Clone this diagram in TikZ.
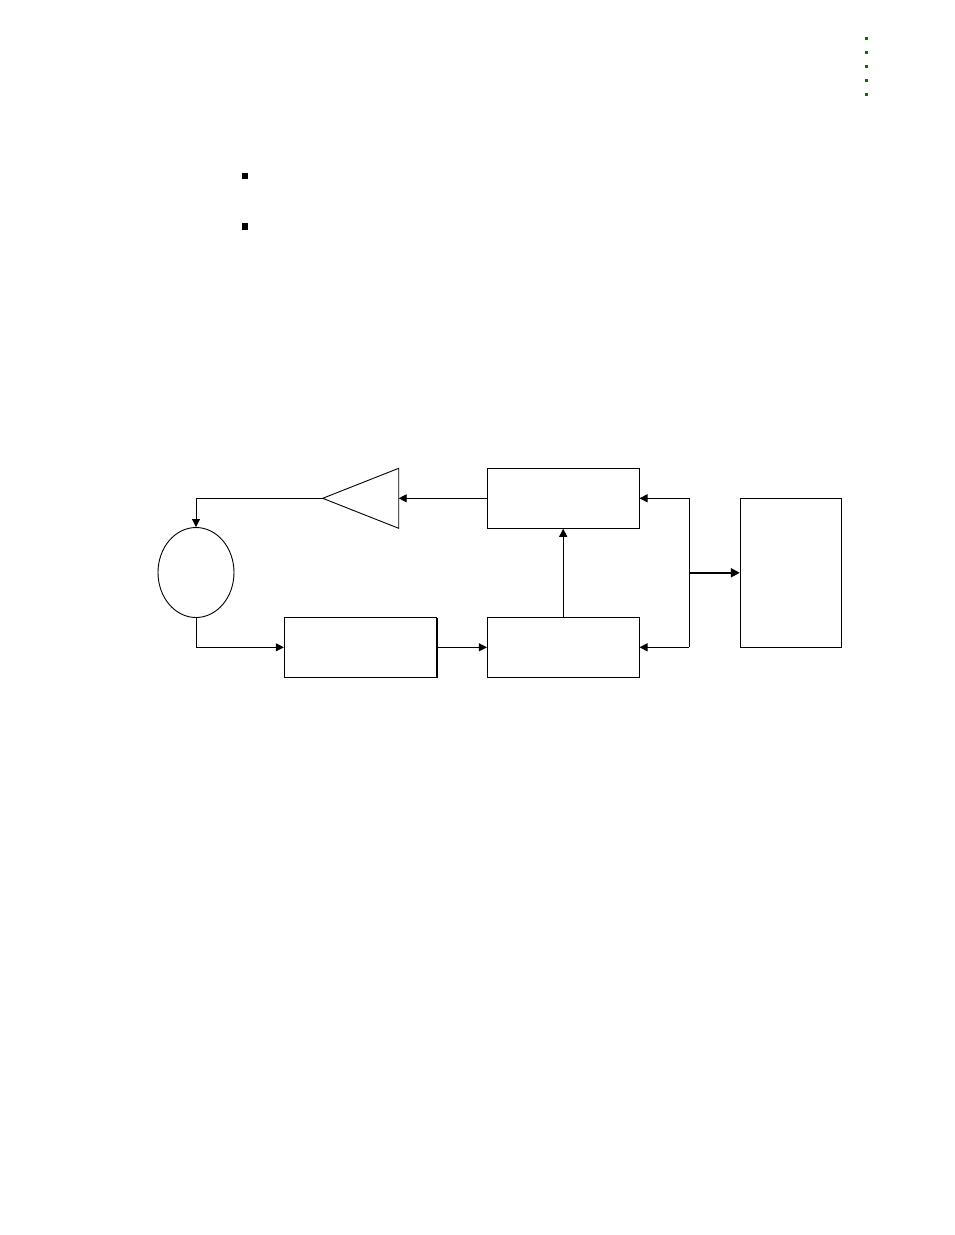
\documentclass[tikz,border=0pt]{standalone}
\usetikzlibrary{arrows.meta,shadows,shapes.geometric}
\begin{document}
\begin{tikzpicture}[x=1pt,y=-1pt,
  blk/.style={draw,line width=0.9pt,fill=white,inner sep=0pt,
    drop shadow={shadow xshift=0.9pt,shadow yshift=-0.9pt,fill=black,opacity=1}},
  plainblk/.style={draw,line width=0.9pt,fill=white,inner sep=0pt},
  conn/.style={line width=0.9pt,-{Triangle[length=8pt,width=8pt]}},
  thickconn/.style={line width=2pt,-{Triangle[length=9pt,width=9pt]}},
  gdot/.style={fill=green!45!black,draw=none,minimum size=3pt,inner sep=0pt},
  bul/.style={fill=black,draw=none,minimum size=6.5pt,inner sep=0pt}]
\useasboundingbox (0,0) rectangle (954,1235);
% green dots top right
\foreach \i/\yy in {1/38.3,2/52.3,3/66.3,4/80.3,5/94.3}
  \node[gdot] (g\i) at (866.7,\yy) {};
% bullets
\node[bul] (b1) at (245,176) {};
\node[bul] (b2) at (245,226.5) {};
% blocks
\node[blk,minimum width=151.7pt,minimum height=60pt] (C) at (563.2,498.3) {};
\node[blk,minimum width=151.7pt,minimum height=60pt] (B) at (563.2,647.3) {};
\node[blk,minimum width=152.4pt,minimum height=60pt] (A) at (360.5,647.3) {};
\node[plainblk,minimum width=101.4pt,minimum height=149pt] (D) at (791,572.8) {};
\node[draw,line width=0.9pt,ellipse,minimum width=76pt,minimum height=90pt,inner sep=0pt] (E) at (196,572.5) {};
% amplifier triangle
\draw[line width=0.9pt,line join=miter] (322.7,498.3) coordinate (tip) -- (398.7,468.3) -- (398.7,528.3) -- cycle;
\coordinate (trin) at (398.7,498.3);
% junction
\coordinate (j1) at (689.3,498.3);
\coordinate (j2) at (689.3,647.3);
\coordinate (jm) at (689.3,572.8);
% connectors
\draw[conn] (C.west) -- (trin);
\draw[conn] (tip) -| (E.north);
\draw[conn] (E.south) |- (A.west);
\draw[conn] (A.east) -- (B.west);
\draw[conn] (B.north) -- (C.south);
\draw[line width=0.9pt] (j1) -- (j2);
\draw[conn] (j1) -- (C.east);
\draw[conn] (j2) -- (B.east);
\draw[thickconn] (jm) -- (D.west);
\end{tikzpicture}
\end{document}
